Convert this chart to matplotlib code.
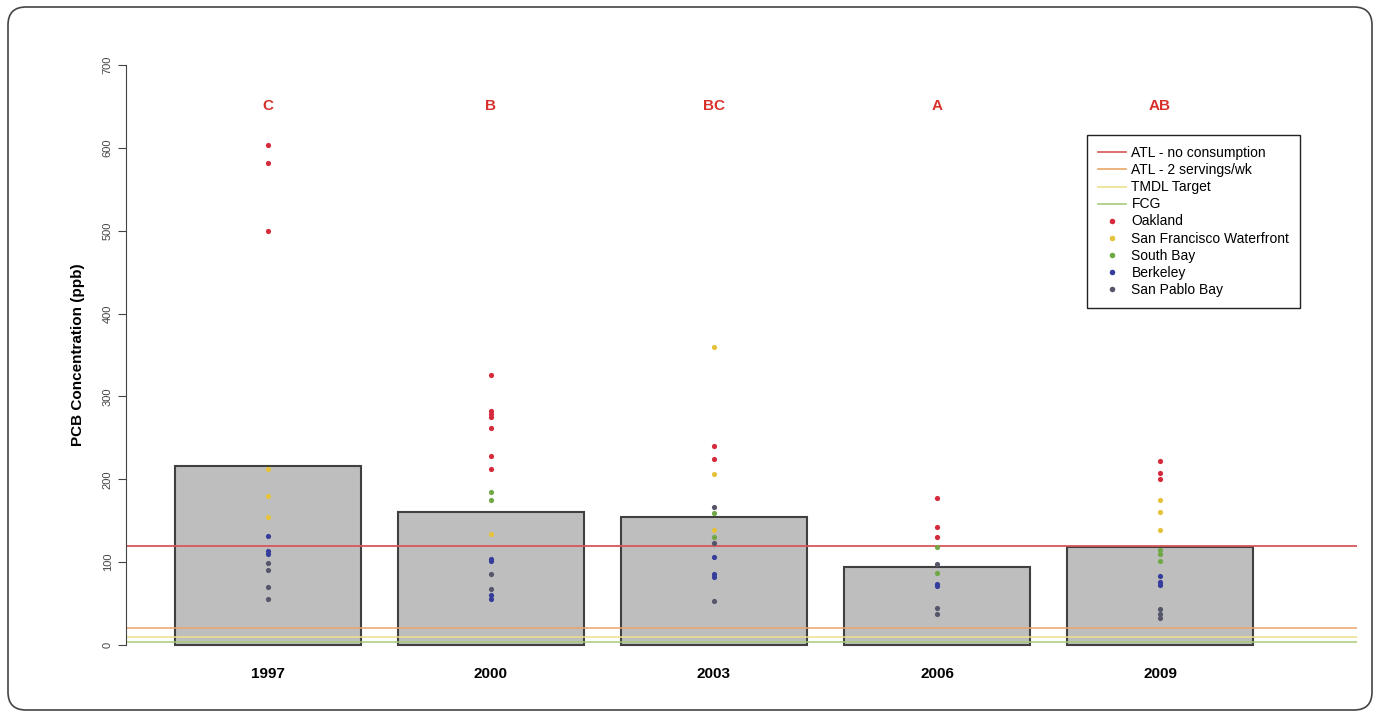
import numpy as np
import matplotlib
matplotlib.use('Agg')
from matplotlib import pyplot as plt
from matplotlib.patches import FancyBboxPatch
from matplotlib.lines import Line2D

plt.rcParams['font.family'] = ['Liberation Sans', 'DejaVu Sans']

# dados
anos = ['1997', '2000', '2003', '2006', '2009']
medias = [216, 161, 155, 94, 118]
letras = ['C', 'B', 'BC', 'A', 'AB']

oakland = [[604, 582, 500], [326, 283, 279, 275, 262, 228, 212], [240, 224],
           [177, 143, 130], [222, 208, 200]]
sf_waterfront = [[213, 180, 155], [134], [360, 207, 139], [], [175, 160, 139]]
south_bay = [[], [185, 175], [159, 130], [118, 87], [115, 110, 101]]
berkeley = [[132, 114, 110], [104, 101, 60, 55], [106, 86, 82], [74, 71],
            [83, 76, 72]]
san_pablo = [[99, 91, 70, 56], [86, 68], [167, 123, 53], [98, 45, 38],
             [44, 38, 33]]

# linhas de referencia (ppb)
atl_sem_consumo = 120
atl_2_porcoes = 21
tmdl = 10
fcg = 3.6

locais = ['Oakland', 'San Francisco Waterfront', 'South Bay', 'Berkeley', 'San Pablo Bay']
pontos = [oakland, sf_waterfront, south_bay, berkeley, san_pablo]
cores_pontos = ['#d42a3c', '#e6c23a', '#6fa845', '#353c9c', '#55566a']

fig = plt.figure(figsize=(13.79, 7.17), dpi=100)

# moldura arredondada
fundo = fig.add_axes([0, 0, 1, 1])
fundo.set_xlim(0, 1379)
fundo.set_ylim(0, 717)
fundo.axis('off')
fundo.add_patch(FancyBboxPatch((8, 7), 1364, 703, boxstyle='round,pad=0,rounding_size=18',
                               facecolor='white', edgecolor='#444444', linewidth=1.2))

ax = fig.add_axes([126 / 1379, 0.068, (1357 - 126) / 1379, 0.9417 - 0.068])
ax.patch.set_alpha(0)

x = 0.7 + 1.2 * np.arange(len(anos))
ax.bar(x, medias, width=1.0, color='#bebebe', edgecolor='#404040', linewidth=1.5, zorder=1)

ax.axhline(atl_sem_consumo, color='#d9555a', linewidth=1.3, zorder=2)
ax.axhline(atl_2_porcoes, color='#eaa56a', linewidth=1.1, zorder=2)
ax.axhline(tmdl, color='#eee08a', linewidth=1.1, zorder=2)
ax.axhline(fcg, color='#a9c97a', linewidth=1.1, zorder=2)

for serie, cor in zip(pontos, cores_pontos):
    for i, vals in enumerate(serie):
        if vals:
            ax.scatter([x[i]] * len(vals), vals, s=14, color=cor, zorder=3, linewidths=0)

for i, l in enumerate(letras):
    ax.text(x[i], 650, l, color='#d8302a', fontsize=11, fontweight='bold',
            ha='center', va='center')

ax.set_xlim(-0.064, 6.56)
ax.set_ylim(-28, 728)
for s in ['top', 'right', 'bottom']:
    ax.spines[s].set_visible(False)
ax.spines['left'].set_bounds(0, 700)
ax.spines['left'].set_color('#444444')
ax.set_yticks(range(0, 701, 100))
ax.set_yticklabels([str(v) for v in range(0, 701, 100)], rotation=90, va='center',
                   fontsize=8, color='#444444')
ax.tick_params(axis='y', length=6, color='#444444')
ax.set_xticks(x)
ax.set_xticklabels(anos, fontsize=11, fontweight='bold')
ax.tick_params(axis='x', length=0, pad=-1)
ax.set_ylabel('PCB Concentration (ppb)', fontsize=11, fontweight='bold', labelpad=13)

handles = [Line2D([], [], color='#d9555a', linewidth=1.2),
           Line2D([], [], color='#eaa56a', linewidth=1.2),
           Line2D([], [], color='#eee08a', linewidth=1.2),
           Line2D([], [], color='#a9c97a', linewidth=1.2)]
rotulos = ['ATL - no consumption', 'ATL - 2 servings/wk', 'TMDL Target', 'FCG']
for loc, cor in zip(locais, cores_pontos):
    handles.append(Line2D([], [], linestyle='none', marker='o', markersize=4,
                          markerfacecolor=cor, markeredgewidth=0))
    rotulos.append(loc)

leg = ax.legend(handles, rotulos, loc='upper right', bbox_to_anchor=(0.954, 0.851),
                borderaxespad=0, fontsize=10, fancybox=False, edgecolor='#222222',
                framealpha=1, labelspacing=0.22, handlelength=2.0, handletextpad=0.4,
                borderpad=0.8)
leg.get_frame().set_linewidth(1.0)

plt.savefig('out.png', dpi=100)
